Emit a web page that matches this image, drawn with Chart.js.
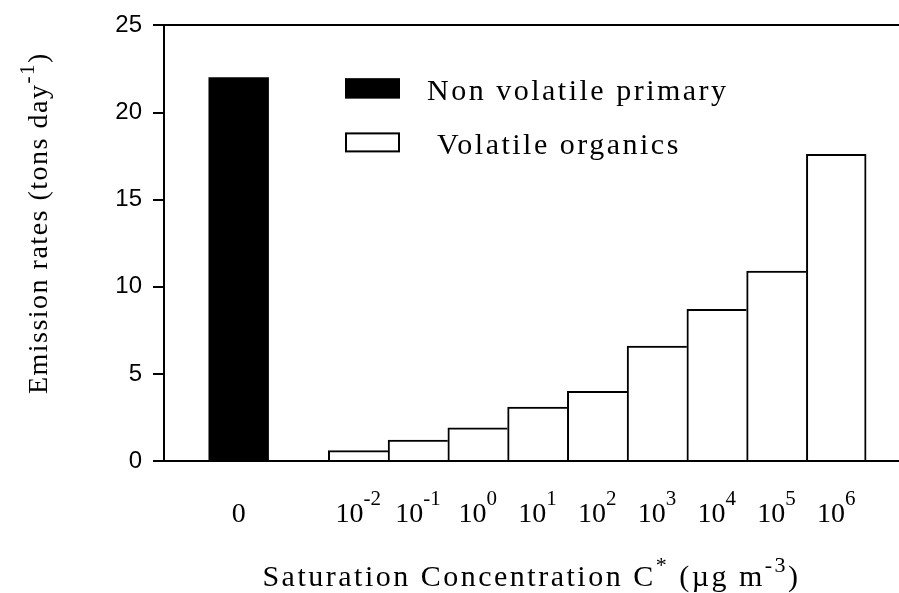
<!DOCTYPE html>
<html>
<head>
<meta charset="utf-8">
<script src="https://cdn.jsdelivr.net/npm/chart.js@4.4.1/dist/chart.umd.min.js"></script>
<style>
  html, body { margin: 0; padding: 0; background: #fff; }
  #wrap { width: 899px; height: 593px; }
</style>
</head>
<body>
<div id="wrap"><canvas id="emissionChart" width="899" height="593"></canvas></div>
<script>
// Werte (tons/day)
const categories = ['0', '', '10^-2', '10^-1', '10^0', '10^1', '10^2', '10^3', '10^4', '10^5', '10^6'];
const nonVolatileValues = [22, null, null, null, null, null, null, null, null, null, null];
const volatileValues = [null, null, 0.6, 1.2, 1.9, 3.1, 4.0, 6.6, 8.7, 10.9, 17.6];
const seriesNames = ['Non volatile primary', 'Volatile organics'];
const yTicks = [0, 5, 10, 15, 20, 25];

const serif = '"Liberation Serif", "Times New Roman", serif';

// Punkte für die lineare x-Achse bauen (Index = Position der Kategorie)
function toPoints(values) {
    const pts = [];
    values.forEach((v, i) => {
        if (v !== null) pts.push({ x: i, y: v });
    });
    return pts;
}

// "10^-2" -> Basis + Hochzahl
function splitPower(label) {
    const p = label.split('^');
    return p.length > 1 ? [{ text: p[0] }, { text: p[1], sup: true }] : [{ text: label }];
}

// Text mit Hochstellungen zentriert zeichnen
function drawRich(ctx, parts, x, y, size, supSize, rise, spacing) {
    ctx.letterSpacing = spacing + 'px';
    let total = 0;
    const widths = parts.map(p => {
        ctx.font = (p.sup ? supSize : size) + 'px ' + serif;
        const w = ctx.measureText(p.text).width;
        total += w;
        return w;
    });
    let cx = x - total / 2;
    ctx.textAlign = 'left';
    ctx.textBaseline = 'alphabetic';
    ctx.fillStyle = '#000';
    parts.forEach((p, i) => {
        ctx.font = (p.sup ? supSize : size) + 'px ' + serif;
        ctx.fillText(p.text, cx, p.sup ? y - rise : y);
        cx += widths[i];
    });
    ctx.letterSpacing = '0px';
}

const volatilePoints = toPoints(volatileValues);
const lastVolatile = volatilePoints.length - 1;

// Achsenbeschriftungen, Titel und Legende
const decorations = {
    id: 'decorations',
    afterDraw(chart) {
        const ctx = chart.ctx;
        const xs = chart.scales.x;
        const area = chart.chartArea;
        ctx.save();

        // x-Ticks mit Hochzahlen
        categories.forEach((label, i) => {
            if (!label) return;
            drawRich(ctx, splitPower(label), xs.getPixelForValue(i), xs.top + 61, 28, 21, 17, 0);
        });

        // x-Titel
        drawRich(ctx, [
            { text: 'Saturation Concentration C' }, { text: '*', sup: true },
            { text: ' (\u00b5g m' }, { text: '-3', sup: true }, { text: ')' }
        ], (area.left + area.right) / 2, xs.top + 125, 30, 22, 14, 2.5);

        // y-Titel (gedreht)
        ctx.save();
        ctx.translate(47, (area.top + area.bottom) / 2 - 20);
        ctx.rotate(-Math.PI / 2);
        drawRich(ctx, [
            { text: 'Emission rates (tons day' }, { text: '-1', sup: true }, { text: ')' }
        ], 0, 0, 28, 21, 13, 1.5);
        ctx.restore();

        // Legende
        const lx = area.left + 181;
        chart.data.datasets.forEach((ds, i) => {
            const top = area.top + 53 + i * 54;
            ctx.fillStyle = ds.backgroundColor;
            ctx.fillRect(lx, top, 55, 20);
            ctx.lineWidth = 2;
            ctx.strokeStyle = '#000';
            ctx.strokeRect(lx + 1, top + 1, 53, 18);
            ctx.fillStyle = '#000';
            ctx.font = '30px ' + serif;
            ctx.letterSpacing = '2.5px';
            ctx.textAlign = 'left';
            ctx.textBaseline = 'alphabetic';
            ctx.fillText(ds.label, lx + 82 + i * 10, top + 22);
            ctx.letterSpacing = '0px';
        });
        ctx.restore();
    }
};

const ctx = document.getElementById('emissionChart').getContext('2d');
const emissionChart = new Chart(ctx, {
    type: 'bar',
    data: {
        datasets: [
            {
                label: seriesNames[0],
                data: toPoints(nonVolatileValues),
                backgroundColor: '#000000',
                borderColor: '#000000',
                borderWidth: 0
            },
            {
                label: seriesNames[1],
                data: volatilePoints,
                backgroundColor: '#ffffff',
                borderColor: '#000000',
                borderSkipped: false,
                borderWidth: c => ({ top: 2, left: 2, bottom: 0, right: c.dataIndex === lastVolatile ? 2 : 0 })
            }
        ]
    },
    options: {
        responsive: false,
        animation: false,
        layout: { padding: { top: 22, right: 0, bottom: 0, left: 0 } },
        datasets: {
            bar: { grouped: false, barPercentage: 1, categoryPercentage: 1 }
        },
        plugins: {
            legend: { display: false },
            tooltip: { enabled: false }
        },
        scales: {
            x: {
                type: 'linear',
                offset: false,
                min: -1.25,
                max: 11.05,
                grid: { display: false, offset: false },
                border: { color: '#000', width: 2 },
                ticks: { display: false },
                afterBuildTicks: s => { s.ticks = categories.map((c, i) => ({ value: i })); },
                afterFit: s => { s.height = 132; }
            },
            x2: {
                type: 'linear',
                position: 'top',
                offset: false,
                min: 0,
                max: 1,
                grid: { display: false },
                border: { color: '#000', width: 2 },
                ticks: { display: false },
                afterFit: s => { s.height = 0; }
            },
            y: {
                min: 0,
                max: 25,
                afterBuildTicks: s => { s.ticks = yTicks.map(v => ({ value: v })); },
                ticks: {
                    color: '#000',
                    padding: 11,
                    font: { family: '"Liberation Sans", Arial, sans-serif', size: 24 }
                },
                grid: { drawOnChartArea: false, color: '#000', lineWidth: 2, tickLength: 11 },
                border: { color: '#000', width: 2 },
                afterFit: s => { s.width = 164; }
            }
        }
    },
    plugins: [decorations]
});
</script>
</body>
</html>
